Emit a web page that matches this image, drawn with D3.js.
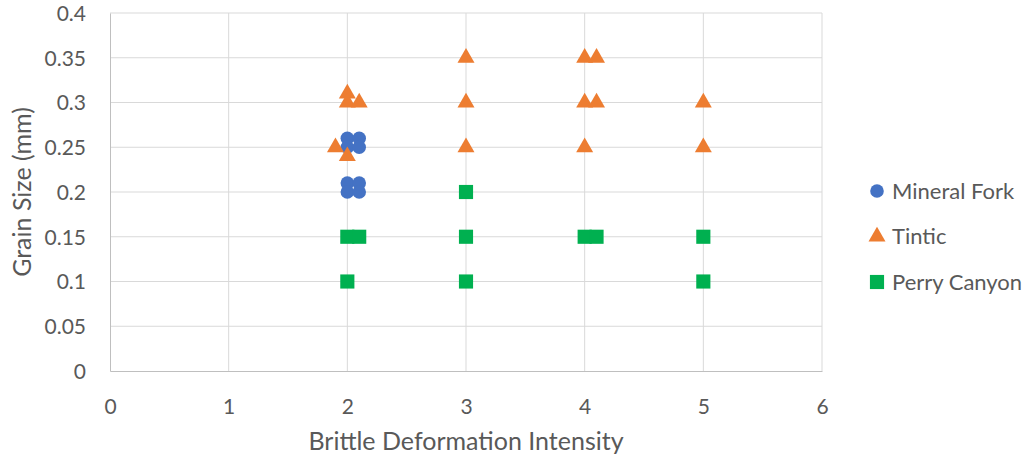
<!DOCTYPE html>
<html>
<head>
<meta charset="utf-8">
<script src="https://cdn.jsdelivr.net/npm/d3@7"></script>
<style>
  body { margin: 0; background: #fff; }
  svg text { font-family: Lato, "Open Sans", sans-serif; fill: #595959; }
</style>
</head>
<body>
<svg id="chart"></svg>
<script>
const seriesNames = ["Mineral Fork", "Tintic", "Perry Canyon"];

const mineralForkX = [2, 2.1, 2, 2.1, 2, 2.1, 2, 2.1];
const mineralForkY = [0.26, 0.26, 0.25, 0.25, 0.21, 0.21, 0.2, 0.2];

const tinticX = [2, 2, 2.1, 1.9, 2, 3, 3, 3, 4, 4.1, 4, 4.1, 4, 5, 5];
const tinticY = [0.31, 0.3, 0.3, 0.25, 0.24, 0.35, 0.3, 0.25, 0.35, 0.35, 0.3, 0.3, 0.25, 0.3, 0.25];

const perryX = [2, 2.1, 2, 3, 3, 3, 4, 4.1, 5, 5];
const perryY = [0.15, 0.15, 0.1, 0.2, 0.15, 0.1, 0.15, 0.15, 0.15, 0.1];

const xTicks = [0, 1, 2, 3, 4, 5, 6];
const yTicks = [0, 0.05, 0.1, 0.15, 0.2, 0.25, 0.3, 0.35, 0.4];

const colors = ["#4472C4", "#ED7D31", "#00B050"];
const symbols = [d3.symbolCircle, d3.symbolTriangle, d3.symbolSquare];
const symSizes = [145, 125, 200];

const width = 1030, height = 459;
const margin = { top: 13, right: 208, bottom: 88, left: 110 };
const w = width - margin.left - margin.right;
const h = height - margin.top - margin.bottom;

const svg = d3.select("#chart").attr("width", width).attr("height", height);
const chart = svg.append("g").attr("transform", `translate(${margin.left},${margin.top})`);

const x = d3.scaleLinear().domain([0, 6]).range([0, w]);
const y = d3.scaleLinear().domain([0, 0.4]).range([h, 0]);

// gridlines
chart.append("g").selectAll("line").data(xTicks.slice(1)).join("line")
  .attr("x1", d => x(d)).attr("x2", d => x(d)).attr("y1", 0).attr("y2", h)
  .attr("stroke", "#d9d9d9").attr("stroke-width", 1);
chart.append("g").selectAll("line").data(yTicks.slice(1)).join("line")
  .attr("x1", 0).attr("x2", w).attr("y1", d => y(d)).attr("y2", d => y(d))
  .attr("stroke", "#d9d9d9").attr("stroke-width", 1);

// axes
const xAxis = chart.append("g").attr("transform", `translate(0,${h})`)
  .call(d3.axisBottom(x).tickValues(xTicks).tickSize(0).tickPadding(36).tickFormat(d3.format("d")));
const yAxis = chart.append("g")
  .call(d3.axisLeft(y).tickValues(yTicks).tickSize(0).tickPadding(24).tickFormat(d => d === 0 ? "0" : String(+d.toFixed(2))));
[xAxis, yAxis].forEach(a => {
  a.select(".domain").attr("stroke", "#bfbfbf");
  a.selectAll("text").style("font-size", "21px").attr("fill", "#595959");
});
xAxis.selectAll("text").attr("dy", "0.35em");
yAxis.selectAll("text").attr("dy", "0.35em");

// axis titles
svg.append("text")
  .attr("x", margin.left + w / 2).attr("y", 441).attr("dy", "0.35em")
  .attr("text-anchor", "middle").style("font-size", "25px")
  .text("Brittle Deformation Intensity");
svg.append("text")
  .attr("transform", `translate(22,${margin.top + h / 2}) rotate(-90)`)
  .attr("dy", "0.35em")
  .attr("text-anchor", "middle").style("font-size", "25px")
  .text("Grain Size (mm)");

// points
const series = [
  { xs: mineralForkX, ys: mineralForkY },
  { xs: tinticX, ys: tinticY },
  { xs: perryX, ys: perryY }
];
series.forEach((s, i) => {
  const pts = s.xs.map((v, j) => [v, s.ys[j]]);
  chart.append("g").selectAll("path").data(pts).join("path")
    .attr("transform", d => `translate(${x(d[0])},${y(d[1])})`)
    .attr("d", d3.symbol().type(symbols[i]).size(symSizes[i]))
    .attr("fill", colors[i]);
});

// legend
const legend = svg.append("g").attr("transform", "translate(877,191)");
seriesNames.forEach((name, i) => {
  const g = legend.append("g").attr("transform", `translate(0,${i * 45.5})`);
  g.append("path")
    .attr("d", d3.symbol().type(symbols[i]).size(symSizes[i]))
    .attr("fill", colors[i]);
  g.append("text").attr("x", 15).attr("dy", "0.35em")
    .style("font-size", "22px").text(name);
});
</script>
</body>
</html>
